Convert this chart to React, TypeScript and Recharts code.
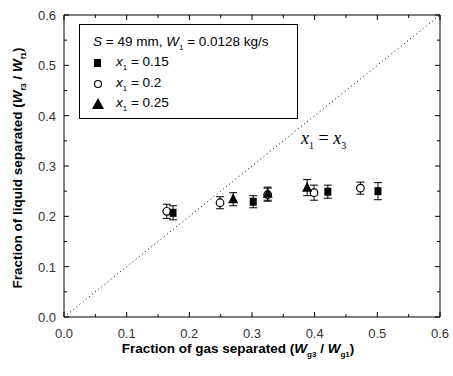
import React from 'react';
import {
  ScatterChart,
  Scatter,
  XAxis,
  YAxis,
  ErrorBar,
  ReferenceLine,
} from 'recharts';

// x1 = 0.15 (filled squares)
const sqX = [0.174, 0.302, 0.421, 0.501];
const sqY = [0.207, 0.229, 0.249, 0.25];
const sqErr = [0.014, 0.012, 0.013, 0.017];

// x1 = 0.2 (open circles)
const ciX = [0.164, 0.249, 0.325, 0.399, 0.473];
const ciY = [0.21, 0.227, 0.243, 0.247, 0.256];
const ciErr = [0.014, 0.012, 0.013, 0.015, 0.012];

// x1 = 0.25 (filled triangles)
const trX = [0.27, 0.325, 0.388];
const trY = [0.234, 0.245, 0.257];
const trErr = [0.013, 0.013, 0.016];

const axisTicks = [0, 0.05, 0.1, 0.15, 0.2, 0.25, 0.3, 0.35, 0.4, 0.45, 0.5, 0.55, 0.6];
const labelTicks = [0, 0.1, 0.2, 0.3, 0.4, 0.5, 0.6];

const toPoints = (xs: number[], ys: number[], errs: number[]) =>
  xs.map((x, i) => ({ x, y: ys[i], err: errs[i] }));

const squares = toPoints(sqX, sqY, sqErr);
const circles = toPoints(ciX, ciY, ciErr);
const triangles = toPoints(trX, trY, trErr);

const FONT = 'Arial, "Liberation Sans", sans-serif';
const isMajor = (v: number) => labelTicks.some((t) => Math.abs(t - v) < 1e-6);

function BottomTick(props: any) {
  const { x, y, payload } = props;
  const major = isMajor(payload.value);
  return (
    <g>
      <line x1={x} x2={x} y1={y} y2={y - (major ? 5 : 3)} stroke="#000" />
      {major && (
        <text x={x} y={y + 21} textAnchor="middle" fontSize={13} fill="#333" fontFamily={FONT}>
          {payload.value.toFixed(1)}
        </text>
      )}
    </g>
  );
}

function LeftTick(props: any) {
  const { x, y, payload } = props;
  const major = isMajor(payload.value);
  return (
    <g>
      <line x1={x} x2={x + (major ? 5 : 3)} y1={y} y2={y} stroke="#000" />
      {major && (
        <text x={x - 8} y={y + 5} textAnchor="end" fontSize={13} fill="#333" fontFamily={FONT}>
          {payload.value.toFixed(1)}
        </text>
      )}
    </g>
  );
}

function TopTick(props: any) {
  const { x, y, payload } = props;
  const major = isMajor(payload.value);
  return <line x1={x} x2={x} y1={y} y2={y + (major ? 5 : 3)} stroke="#000" />;
}

function RightTick(props: any) {
  const { x, y, payload } = props;
  const major = isMajor(payload.value);
  return <line x1={x} x2={x - (major ? 5 : 3)} y1={y} y2={y} stroke="#000" />;
}

const SquareShape = (p: any) => (
  <rect x={p.cx - 3.5} y={p.cy - 4} width={7} height={8} fill="#000" />
);
const CircleShape = (p: any) => (
  <circle cx={p.cx} cy={p.cy} r={3.8} fill="#fff" stroke="#000" strokeWidth={1.2} />
);
const TriangleShape = (p: any) => (
  <polygon
    points={`${p.cx},${p.cy - 6} ${p.cx - 5},${p.cy + 4} ${p.cx + 5},${p.cy + 4}`}
    fill="#000"
  />
);

export default function App() {
  return (
    <div style={{ position: 'absolute', left: 0, top: 0, width: 453, height: 376, background: '#fff' }}>
      <ScatterChart width={453} height={376} margin={{ top: 0, right: 0, bottom: 0, left: 0 }}>
        <XAxis
          xAxisId="b"
          type="number"
          dataKey="x"
          domain={[0, 0.6]}
          ticks={axisTicks}
          interval={0}
          height={59}
          tickSize={0}
          tickMargin={0}
          tickLine={false}
          axisLine={{ stroke: '#000' }}
          tick={<BottomTick />}
          allowDataOverflow
        />
        <XAxis
          xAxisId="t"
          orientation="top"
          type="number"
          dataKey="x"
          domain={[0, 0.6]}
          ticks={axisTicks}
          interval={0}
          height={15}
          tickSize={0}
          tickMargin={0}
          tickLine={false}
          axisLine={{ stroke: '#000' }}
          tick={<TopTick />}
          allowDataOverflow
        />
        <YAxis
          yAxisId="l"
          type="number"
          dataKey="y"
          domain={[0, 0.6]}
          ticks={axisTicks}
          interval={0}
          width={64}
          tickSize={0}
          tickMargin={0}
          tickLine={false}
          axisLine={{ stroke: '#000' }}
          tick={<LeftTick />}
          allowDataOverflow
        />
        <YAxis
          yAxisId="r"
          orientation="right"
          type="number"
          dataKey="y"
          domain={[0, 0.6]}
          ticks={axisTicks}
          interval={0}
          width={13}
          tickSize={0}
          tickMargin={0}
          tickLine={false}
          axisLine={{ stroke: '#000' }}
          tick={<RightTick />}
          allowDataOverflow
        />
        <ReferenceLine
          xAxisId="b"
          yAxisId="l"
          segment={[{ x: 0, y: 0 }, { x: 0.6, y: 0.6 }]}
          stroke="#000"
          strokeDasharray="1 3"
          ifOverflow="visible"
        />
        <Scatter xAxisId="b" yAxisId="l" data={circles} shape={CircleShape} isAnimationActive={false}>
          <ErrorBar dataKey="err" direction="y" width={4} stroke="#000" strokeWidth={1} />
        </Scatter>
        <Scatter xAxisId="b" yAxisId="l" data={squares} shape={SquareShape} isAnimationActive={false}>
          <ErrorBar dataKey="err" direction="y" width={4} stroke="#000" strokeWidth={1} />
        </Scatter>
        <Scatter xAxisId="b" yAxisId="l" data={triangles} shape={TriangleShape} isAnimationActive={false}>
          <ErrorBar dataKey="err" direction="y" width={4} stroke="#000" strokeWidth={1} />
        </Scatter>
      </ScatterChart>

      {/* legend box */}
      <div
        style={{
          position: 'absolute',
          left: 79,
          top: 24,
          width: 217,
          height: 93,
          border: '1px solid #000',
          background: '#fff',
          fontFamily: FONT,
          fontSize: 13.5,
          color: '#000',
        }}
      >
        <div style={{ position: 'absolute', left: 13, top: 9, whiteSpace: 'nowrap' }}>
          <i>S</i> = 49 mm, <i>W</i>
          <sub style={{ fontSize: 8 }}>1</sub> = 0.0128 kg/s
        </div>
        {[
          { sym: 'sq', label: '0.15', top: 29 },
          { sym: 'ci', label: '0.2', top: 50 },
          { sym: 'tr', label: '0.25', top: 70 },
        ].map((r) => (
          <div key={r.label} style={{ position: 'absolute', left: 11, top: r.top, whiteSpace: 'nowrap', height: 18 }}>
            <svg width={14} height={14} style={{ position: 'absolute', left: 0, top: 2 }}>
              {r.sym === 'sq' && <rect x={3} y={3} width={7} height={8} fill="#000" />}
              {r.sym === 'ci' && <circle cx={7} cy={7} r={3.5} fill="#fff" stroke="#000" strokeWidth={1.2} />}
              {r.sym === 'tr' && <polygon points="7,1 1,12 13,12" fill="#000" />}
            </svg>
            <span style={{ position: 'absolute', left: 25, top: 0 }}>
              <i>x</i>
              <sub style={{ fontSize: 8 }}>1</sub> = {r.label}
            </span>
          </div>
        ))}
      </div>

      {/* diagonal annotation */}
      <div
        style={{
          position: 'absolute',
          left: 301,
          top: 128,
          fontFamily: '"Liberation Serif", "DejaVu Serif", serif',
          fontSize: 18,
          whiteSpace: 'nowrap',
        }}
      >
        <i>x</i>
        <sub style={{ fontSize: 10 }}>1</sub> = <i>x</i>
        <sub style={{ fontSize: 10 }}>3</sub>
      </div>

      {/* y axis title */}
      <div
        style={{
          position: 'absolute',
          left: 18 - 150,
          top: 168 - 10,
          width: 300,
          height: 20,
          lineHeight: '20px',
          textAlign: 'center',
          transform: 'rotate(-90deg)',
          fontFamily: FONT,
          fontWeight: 'bold',
          fontSize: 13.5,
          whiteSpace: 'nowrap',
        }}
      >
        Fraction of liquid separated (<i>W</i>
        <sub style={{ fontSize: 8 }}>f3</sub> / <i>W</i>
        <sub style={{ fontSize: 8 }}>f1</sub>)
      </div>

      {/* x axis title */}
      <div
        style={{
          position: 'absolute',
          left: 238 - 150,
          top: 339,
          width: 300,
          height: 20,
          lineHeight: '20px',
          textAlign: 'center',
          fontFamily: FONT,
          fontWeight: 'bold',
          fontSize: 13.5,
          whiteSpace: 'nowrap',
        }}
      >
        Fraction of gas separated (<i>W</i>
        <sub style={{ fontSize: 8 }}>g3</sub> / <i>W</i>
        <sub style={{ fontSize: 8 }}>g1</sub>)
      </div>
    </div>
  );
}
